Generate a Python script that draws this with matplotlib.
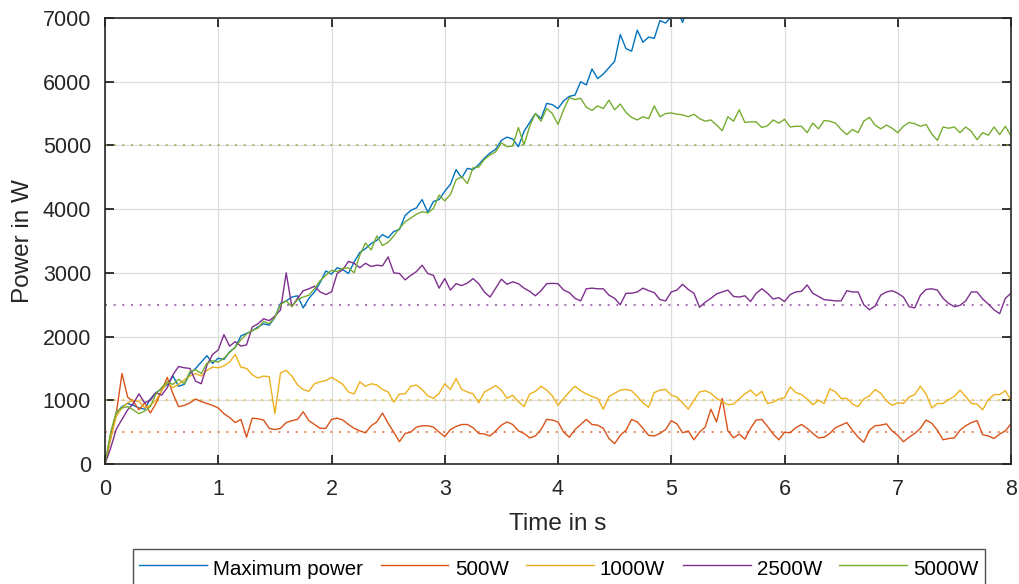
import numpy as np
import matplotlib
matplotlib.use('Agg')
import matplotlib.pyplot as plt

plt.rcParams['font.family'] = ['Liberation Sans', 'DejaVu Sans']

dt = 0.05
t = np.arange(161) * dt

# Maximum power (leaves the plot above 7000 W)
p_max = [0, 450, 800, 900, 950, 920, 880, 860, 1020, 1120,
         1180, 1250, 1380, 1220, 1250, 1420, 1500, 1600, 1700, 1580,
         1660, 1640, 1760, 1830, 2010, 2050, 2090, 2150, 2200, 2180,
         2300, 2520, 2560, 2620, 2640, 2450, 2600, 2700, 2850, 3030,
         2980, 3080, 3050, 2990, 3170, 3320, 3380, 3460, 3510, 3600,
         3550, 3650, 3680, 3900, 3980, 4020, 4150, 3950, 4120, 4150,
         4280, 4390, 4620, 4490, 4640, 4620, 4700, 4800, 4880, 4940,
         5080, 5130, 5100, 4980, 5220, 5360, 5500, 5420, 5660, 5640,
         5580, 5700, 5770, 5790, 6000, 5950, 6200, 6050, 6120, 6220,
         6320, 6740, 6520, 6480, 6810, 6620, 6700, 6680, 6960, 6920,
         7020, 7150, 6930, 7200, 7350]

p_500 = [0, 400, 800, 1420, 1050, 980, 850, 960, 800, 950,
         1150, 1360, 1100, 900, 920, 960, 1020, 980, 950, 920,
         880, 790, 730, 650, 700, 420, 720, 710, 690, 560,
         540, 560, 650, 680, 700, 820, 680, 620, 560, 560,
         700, 720, 690, 620, 560, 520, 490, 600, 660, 800,
         640, 500, 350, 480, 500, 580, 600, 600, 580, 500,
         430, 540, 590, 620, 620, 570, 480, 470, 440, 520,
         610, 660, 620, 520, 480, 410, 440, 540, 700, 690,
         660, 500, 420, 540, 620, 700, 620, 610, 560, 400,
         320, 450, 530, 700, 660, 560, 450, 440, 480, 540,
         680, 630, 490, 520, 380, 500, 580, 860, 660, 1030,
         520, 410, 470, 390, 560, 690, 700, 590, 470, 380,
         500, 490, 570, 620, 560, 480, 410, 420, 480, 570,
         610, 650, 530, 420, 340, 530, 600, 610, 630, 520,
         450, 350, 420, 480, 560, 690, 640, 530, 380, 400,
         410, 530, 600, 650, 680, 460, 440, 400, 470, 520,
         630]

p_1000 = [0, 400, 750, 880, 960, 1000, 980, 880, 920, 1000,
          1150, 1280, 1200, 1250, 1320, 1380, 1420, 1380, 1470, 1520,
          1510, 1540, 1600, 1720, 1520, 1500, 1400, 1350, 1380, 1370,
          790, 1430, 1470, 1380, 1240, 1170, 1140, 1260, 1290, 1310,
          1360, 1310, 1250, 1130, 1100, 1290, 1220, 1260, 1240, 1170,
          1130, 970, 1100, 1100, 1220, 1240, 1170, 1070, 1030, 1110,
          1260, 1170, 1340, 1170, 1130, 1100, 960, 1130, 1180, 1230,
          1160, 1030, 1080, 980, 900, 1100, 1140, 1220, 1160, 1070,
          920, 1030, 1130, 1220, 1150, 1100, 1060, 1030, 860, 1060,
          1110, 1160, 1170, 1150, 1060, 960, 890, 1120, 1160, 1170,
          1080, 1050, 960, 860, 1000, 1130, 1150, 1110, 1030, 980,
          930, 940, 1020, 1100, 1160, 1070, 1140, 950, 970, 1020,
          1040, 1210, 1120, 1090, 1020, 930, 1000, 950, 1180, 1130,
          1030, 1030, 940, 900, 1020, 1070, 1170, 1110, 990, 920,
          960, 950, 1050, 1090, 1220, 1100, 880, 950, 950, 1010,
          1060, 1160, 1060, 950, 940, 850, 1010, 1090, 1090, 1150,
          1000]

p_2500 = [0, 250, 550, 700, 850, 950, 1100, 960, 1000, 1120,
          1080, 1200, 1400, 1530, 1510, 1500, 1300, 1260, 1550, 1720,
          1790, 2030, 1850, 1920, 1850, 1870, 2150, 2200, 2280, 2250,
          2320, 2420, 3000, 2470, 2600, 2720, 2750, 2790, 2700, 2660,
          2700, 2990, 3050, 3180, 3150, 3080, 3150, 3100, 3120, 3110,
          3250, 3000, 2990, 2890, 2960, 3020, 3120, 2990, 2960, 2760,
          2910, 2730, 2830, 2800, 2840, 2910, 2830, 2700, 2620, 2760,
          2900, 2820, 2860, 2830, 2760, 2710, 2640, 2720, 2830, 2835,
          2830, 2730, 2690, 2600, 2560, 2750, 2760, 2750, 2750, 2650,
          2600, 2500, 2680, 2680, 2700, 2760, 2720, 2690, 2580, 2560,
          2700, 2730, 2820, 2740, 2680, 2460, 2540, 2600, 2670, 2700,
          2730, 2630, 2620, 2640, 2550, 2680, 2750, 2680, 2590, 2610,
          2550, 2660, 2700, 2710, 2810, 2680, 2630, 2580, 2570, 2560,
          2560, 2720, 2700, 2700, 2500, 2420, 2480, 2650, 2700, 2720,
          2680, 2620, 2470, 2450, 2650, 2740, 2750, 2730, 2600, 2520,
          2470, 2490, 2560, 2700, 2700, 2590, 2510, 2420, 2360, 2600,
          2680]

p_5000 = [0, 500, 820, 880, 900, 850, 790, 830, 900, 1100,
          1200, 1290, 1250, 1330, 1260, 1450, 1480, 1420, 1580, 1620,
          1600, 1660, 1750, 1830, 1950, 2040, 2100, 2130, 2240, 2200,
          2300, 2500, 2560, 2470, 2580, 2620, 2650, 2750, 2880, 2960,
          3040, 3020, 3070, 3080, 3000, 3280, 3470, 3360, 3580, 3430,
          3480, 3580, 3700, 3800, 3860, 3920, 3960, 3940, 4010, 4220,
          4130, 4230, 4460, 4510, 4400, 4650, 4660, 4780, 4850, 4900,
          5040, 4980, 4990, 5280, 5010, 5300, 5500, 5380, 5580, 5500,
          5330, 5560, 5750, 5720, 5740, 5600, 5550, 5620, 5580, 5710,
          5560, 5650, 5520, 5440, 5400, 5450, 5420, 5620, 5450, 5500,
          5510, 5490, 5480, 5450, 5490, 5420, 5380, 5400, 5320, 5230,
          5450, 5380, 5560, 5360, 5370, 5370, 5280, 5310, 5400, 5350,
          5410, 5290, 5300, 5300, 5200, 5350, 5260, 5390, 5380, 5350,
          5250, 5170, 5250, 5200, 5380, 5440, 5320, 5260, 5320, 5270,
          5200, 5300, 5360, 5340, 5300, 5330, 5180, 5080, 5290, 5270,
          5290, 5200, 5290, 5220, 5090, 5200, 5160, 5290, 5170, 5300,
          5150]

labels = ['Maximum power', '500W', '1000W', '2500W', '5000W']
limits = [None, 500, 1000, 2500, 5000]
colors = ['#0072BD', '#D95319', '#EDB120', '#7E2F8E', '#77AC30']
series = [p_max, p_500, p_1000, p_2500, p_5000]

fig = plt.figure(figsize=(10.19, 5.84), dpi=100)
ax = fig.add_axes([105/1019, 1-464/584, 906/1019, 446/584])

for lim, c in zip(limits, colors):
    if lim is not None:
        ax.axhline(lim, color=c, lw=1.2, ls=(0, (1.2, 4)), alpha=0.8, zorder=1.5)

handles = []
for y, c, lab in zip(series, colors, labels):
    h, = ax.plot(t[:len(y)], y, color=c, lw=1.0, label=lab, zorder=2)
    handles.append(h)

ax.set_xlim(0, 8)
ax.set_ylim(0, 7000)
ax.set_xticks(np.arange(0, 9, 1))
ax.set_yticks(np.arange(0, 7001, 1000))
ax.grid(True, color='#dedede', lw=0.9)
ax.set_axisbelow(True)
ax.tick_params(direction='in', length=6.5, width=1.3, top=True, right=True,
               labelsize=15.5, labelcolor='#262626', color='#262626')
ax.tick_params(axis='x', pad=11)
ax.tick_params(axis='y', pad=10)
for s in ax.spines.values():
    s.set_color('#262626')
    s.set_linewidth(1.2)

ax.set_xlabel('Time in s', fontsize=17.5, color='#262626', labelpad=9)
ax.set_ylabel('Power in W', fontsize=17.5, color='#262626', labelpad=6)

leg = fig.legend(handles=handles, loc='upper center', bbox_to_anchor=(559/1019, 1-549/584),
                 ncol=5, fontsize=14.8, frameon=True, fancybox=False, edgecolor='#262626',
                 handlelength=3.3, handleheight=1.65, handletextpad=0.3, columnspacing=0.85,
                 borderaxespad=0, borderpad=0.3)
leg.get_frame().set_linewidth(1.0)

fig.savefig('out.png', dpi=100)
